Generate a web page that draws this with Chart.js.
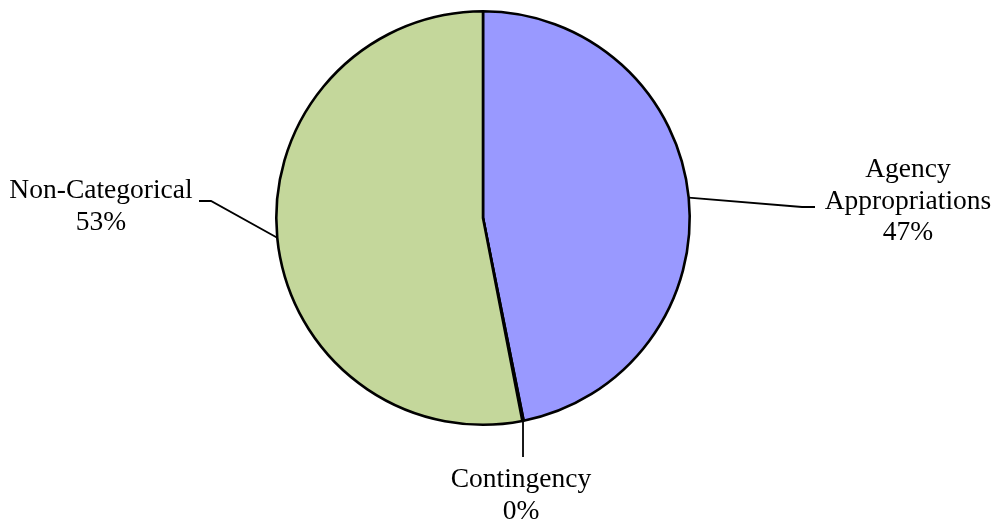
<!DOCTYPE html>
<html>
<head>
<meta charset="utf-8">
<script src="https://cdn.jsdelivr.net/npm/chart.js@4/dist/chart.umd.min.js"></script>
<style>
  body { margin: 0; background: #fff; }
</style>
</head>
<body>
<canvas id="fundPie" width="1001" height="524"></canvas>
<script>
// data
const categories = ["Agency Appropriations", "Contingency", "Non-Categorical"];
const labelLines = [["Agency", "Appropriations"], ["Contingency"], ["Non-Categorical"]];
const shares = [46.85, 0.1, 53.05];
const sliceColors = ["#9999FF", "#993366", "#C4D79B"];

// where each data label sits and how its leader line bends
const labelSpots = [
  { x: 908, y: 177, elbow: [802, 207], end: [815, 207] },
  { x: 521, y: 487, elbow: null, end: [null, 457] },
  { x: 101, y: 198, elbow: [211, 201], end: [199, 201] }
];
const lineGap = 31.5;

const total = shares.reduce((a, b) => a + b, 0);

const leaderLabels = {
  id: "leaderLabels",
  afterDatasetsDraw(chart) {
    const ctx = chart.ctx;
    const arcs = chart.getDatasetMeta(0).data;
    ctx.save();
    ctx.strokeStyle = "#000";
    ctx.lineWidth = 1.8;
    ctx.fillStyle = "#000";
    ctx.font = "27.5px 'Liberation Serif'";
    ctx.textAlign = "center";
    ctx.textBaseline = "alphabetic";
    arcs.forEach((arc, i) => {
      const p = arc.getProps(["x", "y", "startAngle", "endAngle", "outerRadius"], true);
      const mid = (p.startAngle + p.endAngle) / 2;
      const ax = p.x + Math.cos(mid) * p.outerRadius;
      const ay = p.y + Math.sin(mid) * p.outerRadius;
      const spot = labelSpots[i];
      ctx.beginPath();
      ctx.moveTo(ax, ay);
      if (spot.elbow) {
        ctx.lineTo(spot.elbow[0], spot.elbow[1]);
        ctx.lineTo(spot.end[0], spot.end[1]);
      } else {
        ctx.lineTo(ax, spot.end[1]);
      }
      ctx.stroke();
      const pct = Math.round(shares[i] / total * 100) + "%";
      const lines = labelLines[i].concat([pct]);
      lines.forEach((t, k) => ctx.fillText(t, spot.x, spot.y + k * lineGap));
    });
    ctx.restore();
  }
};

new Chart(document.getElementById("fundPie"), {
  type: "pie",
  data: {
    labels: categories,
    datasets: [{
      data: shares,
      backgroundColor: sliceColors,
      borderColor: "#000",
      borderWidth: 2.6,
      hoverOffset: 0
    }]
  },
  options: {
    responsive: false,
    animation: false,
    layout: { padding: { top: 10, bottom: 98, left: 275, right: 310 } },
    plugins: {
      legend: { display: false },
      tooltip: { enabled: false }
    }
  },
  plugins: [leaderLabels]
});
</script>
</body>
</html>
